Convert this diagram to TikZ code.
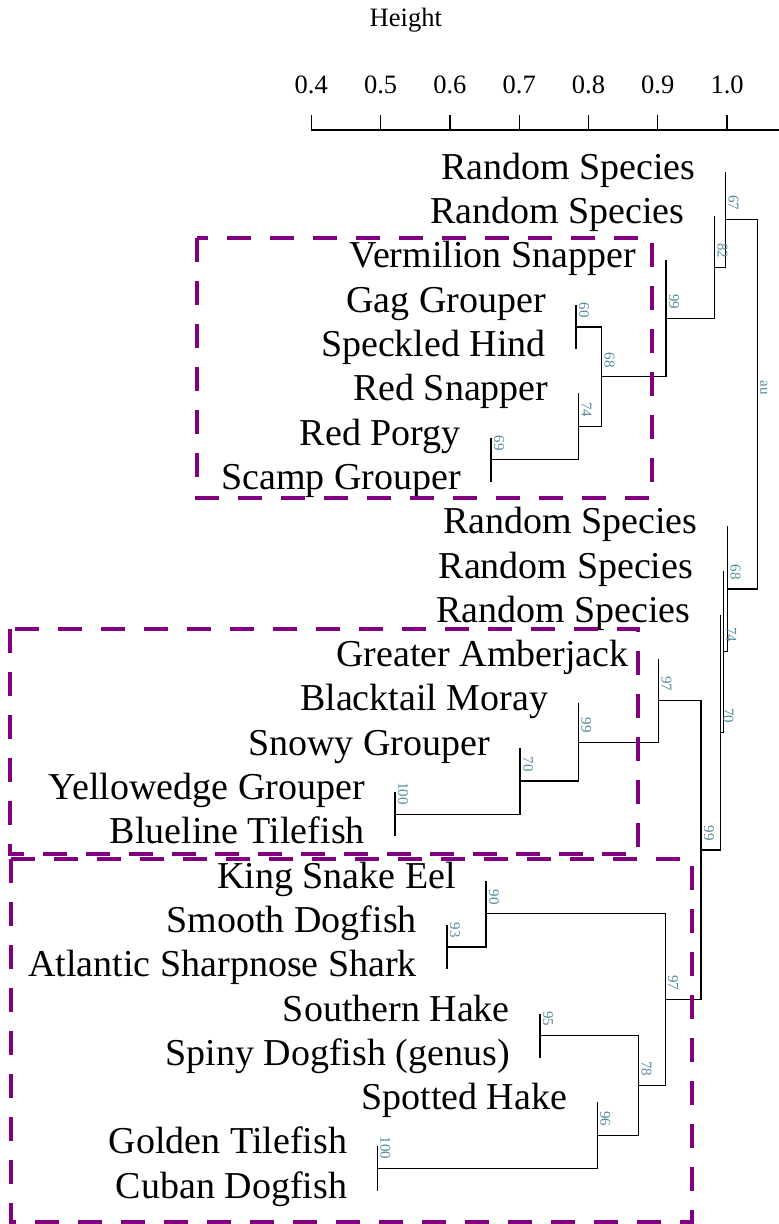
\documentclass[tikz,border=0pt]{standalone}
\usepackage{fontspec}
\setmainfont{Liberation Serif}
\definecolor{boxpurple}{RGB}{128,0,128}
\definecolor{pvteal}{RGB}{84,140,158}
\tikzset{
  tree/.style={line width=1.3pt, black},
  leaflab/.style={anchor=base east, inner sep=0pt, font=\fontsize{38}{40}\selectfont},
  pv/.style={anchor=base east, rotate=-90, inner sep=0pt, text=pvteal, font=\fontsize{15}{16}\selectfont},
  hlbox/.style={draw=boxpurple, line width=4pt, dash pattern=on 24pt off 19pt},
  axislab/.style={font=\fontsize{26.5}{28}\selectfont, anchor=base, inner sep=0pt},
}
\newcommand\dmerge[3]{\draw[tree] (#2) -- (#2 -| #1) -- (#3 -| #1) -- (#3);}
\begin{document}
\begin{tikzpicture}[x=1pt,y=-1pt]
\useasboundingbox (0,0) rectangle (779,1224);

% axis
\node[axislab] (ylab) at (405.8,26.7) {Height};
\coordinate (ax0) at (311.3,130);
\coordinate (ax1) at (779,130);
\draw[tree] (ax0) -- (ax1);
\foreach \lab [count=\i from 0] in {0.4,0.5,0.6,0.7,0.8,0.9,1.0}{
  \pgfmathsetmacro\xx{311.3+69.3*\i}
  \coordinate (t\i) at (\xx,130);
  \coordinate (tt\i) at (\xx,115);
  \draw[tree] (t\i) -- (tt\i);
  \node[axislab] (tl\i) at (\xx,93.3) {\lab};
}

% leaves
\foreach \k/\xp/\name in {
  0/725.7/{Random Species},
  1/714.7/{Random Species},
  2/666/{Vermilion Snapper},
  3/576/{Gag Grouper},
  4/576/{Speckled Hind},
  5/578.7/{Red Snapper},
  6/491/{Red Porgy},
  7/491/{Scamp Grouper},
  8/727.7/{Random Species},
  9/723.3/{Random Species},
  10/720.6/{Random Species},
  11/658.7/{Greater Amberjack},
  12/578.3/{Blacktail Moray},
  13/520/{Snowy Grouper},
  14/395/{Yellowedge Grouper},
  15/395/{Blueline Tilefish},
  16/486/{King Snake Eel},
  17/447/{Smooth Dogfish},
  18/447/{Atlantic Sharpnose Shark},
  19/540/{Southern Hake},
  20/540/{Spiny Dogfish (genus)},
  21/597.3/{Spotted Hake},
  22/377.3/{Golden Tilefish},
  23/377.3/{Cuban Dogfish}}{
  \pgfmathsetmacro\yy{171.8+44.3*\k}
  \coordinate (leaf\k) at (\xp,\yy);
  \node[leaflab] (lab\k) at (\xp-30,\yy+7.5) {\name};
}

% internal nodes
\coordinate (nA) at (576,326.85);
\coordinate (nB) at (491,459.75);
\coordinate (nC) at (578.7,426.5);
\coordinate (nD) at (601.7,376.7);
\coordinate (nE) at (666,318.55);
\coordinate (nF) at (714.7,267.3);
\coordinate (nG) at (725.7,219.55);
\coordinate (nP) at (395,814.15);
\coordinate (nO) at (520,780.9);
\coordinate (nN) at (578.3,742.15);
\coordinate (nL) at (658.7,700.6);
\coordinate (nS) at (447,947.05);
\coordinate (nQ) at (486,913.8);
\coordinate (nT) at (540,1035.65);
\coordinate (nV) at (377.3,1168.55);
\coordinate (nU) at (597.3,1135.3);
\coordinate (nR) at (638.7,1085.5);
\coordinate (nM) at (665.3,999.65);
\coordinate (nK) at (701,850.1);
\coordinate (nJ) at (720.6,732.45);
\coordinate (nI) at (723.3,651.5);
\coordinate (nH) at (727.7,588.85);
\coordinate (nRoot) at (757.3,404.2);

\dmerge{nA}{leaf3}{leaf4}
\dmerge{nB}{leaf6}{leaf7}
\dmerge{nC}{leaf5}{nB}
\dmerge{nD}{nA}{nC}
\dmerge{nE}{leaf2}{nD}
\dmerge{nF}{leaf1}{nE}
\dmerge{nG}{leaf0}{nF}
\dmerge{nP}{leaf14}{leaf15}
\dmerge{nO}{leaf13}{nP}
\dmerge{nN}{leaf12}{nO}
\dmerge{nL}{leaf11}{nN}
\dmerge{nS}{leaf17}{leaf18}
\dmerge{nQ}{leaf16}{nS}
\dmerge{nT}{leaf19}{leaf20}
\dmerge{nV}{leaf22}{leaf23}
\dmerge{nU}{leaf21}{nV}
\dmerge{nR}{nT}{nU}
\dmerge{nM}{nQ}{nR}
\dmerge{nK}{nL}{nM}
\dmerge{nJ}{leaf10}{nK}
\dmerge{nI}{leaf9}{nJ}
\dmerge{nH}{leaf8}{nI}
\dmerge{nRoot}{nG}{nH}

% p-value labels
\foreach \n/\v in {A/60,B/69,C/74,D/68,E/99,F/82,G/67,P/100,O/70,N/99,L/97,S/93,Q/90,T/95,V/100,U/96,R/78,M/97,K/99,J/70,I/74,H/68,Root/au}{
  \node[pv] (pv\n) at ([xshift=3pt,yshift=9pt]n\n) {\v};
}

% highlight boxes
\draw[hlbox] (197,238) rectangle (652,498);
\draw[hlbox] (10,629) rectangle (638,854);
\draw[hlbox] (11,859) rectangle (692,1222);
\end{tikzpicture}
\end{document}
